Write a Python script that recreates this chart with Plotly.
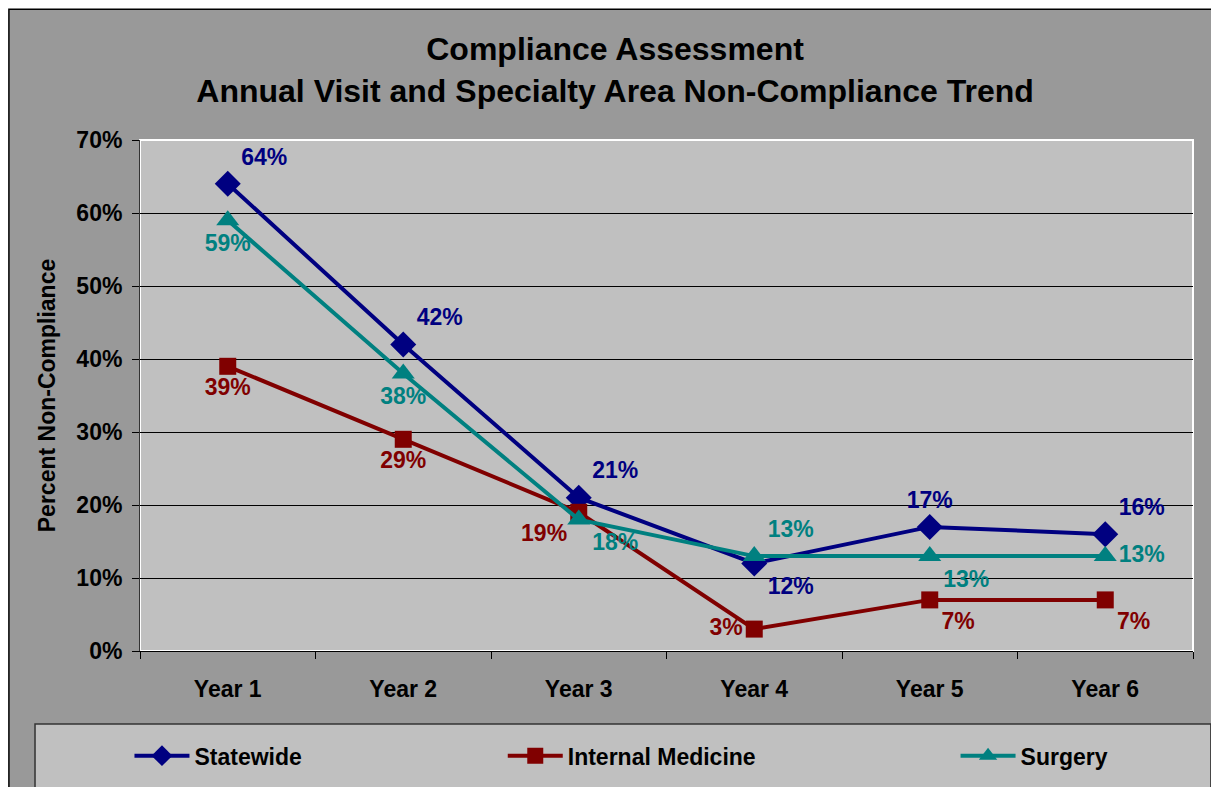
import plotly.graph_objects as go

years = ["Year 1", "Year 2", "Year 3", "Year 4", "Year 5", "Year 6"]
statewide = [0.64, 0.42, 0.21, 0.12, 0.17, 0.16]
internal_medicine = [0.39, 0.29, 0.19, 0.03, 0.07, 0.07]
surgery = [0.59, 0.38, 0.18, 0.13, 0.13, 0.13]

statewide_pos = ["top right", "top right", "top right", "bottom right", "top center", "top right"]
im_pos = ["bottom center", "bottom center", "bottom left", "middle left", "bottom right", "bottom right"]
surgery_pos = ["bottom center", "bottom center", "bottom right", "top right", "bottom right", "middle right"]

NAVY = "#000080"
MAROON = "#800000"
TEAL = "#008080"
FONT = "Liberation Sans"


def pct_labels(values):
    return ["<b>%d%%</b>" % round(v * 100) for v in values]


fig = go.Figure()
series = [
    ("Statewide", statewide, NAVY, "diamond", 20, statewide_pos, "legend"),
    ("Internal Medicine", internal_medicine, MAROON, "square", 17, im_pos, "legend2"),
    ("Surgery", surgery, TEAL, "triangle-up", 20, surgery_pos, "legend3"),
]
for name, values, color, symbol, size, positions, leg in series:
    fig.add_trace(go.Scatter(
        x=years, y=values, name="<b>%s</b>" % name,
        mode="lines+markers+text",
        line=dict(color=color, width=4),
        marker=dict(symbol=symbol, size=size, color=color),
        text=pct_labels(values), textposition=positions,
        textfont=dict(family=FONT, size=23, color=color),
        cliponaxis=False, legend=leg,
    ))

shapes = [
    # outer chart frame
    dict(type="rect", xref="paper", yref="paper", layer="below",
         x0=-0.1245, x1=1.05, y0=-0.4, y1=1.256,
         fillcolor="#999999", line=dict(color="black", width=1.5)),
    # plot area
    dict(type="rect", xref="paper", yref="paper", layer="below",
         x0=0, x1=1, y0=0, y1=1,
         fillcolor="#C0C0C0", line=dict(color="white", width=2)),
    # legend box
    dict(type="rect", xref="paper", yref="paper", layer="below",
         x0=-0.0997, x1=1.017, y0=-0.35, y1=-0.1429,
         fillcolor="#C0C0C0", line=dict(color="#333333", width=1.5)),
]

legend_style = dict(
    orientation="h", xanchor="left", y=-0.205, yanchor="middle", itemwidth=55,
    bgcolor="rgba(0,0,0,0)", font=dict(family=FONT, size=23, color="black"),
)

fig.update_layout(
    width=1219, height=787,
    margin=dict(l=132, r=34, t=132, b=144),
    paper_bgcolor="white", plot_bgcolor="rgba(0,0,0,0)",
    font=dict(family=FONT, size=23, color="black"),
    title=dict(
        text="<b>Compliance Assessment<br>Annual Visit and Specialty Area Non-Compliance Trend</b>",
        x=0.498, xanchor="center", y=0.934, yanchor="top",
        font=dict(family=FONT, size=32, color="black"),
    ),
    shapes=shapes,
    showlegend=True,
    legend=dict(x=-0.01, **legend_style),
    legend2=dict(x=0.3445, **legend_style),
    legend3=dict(x=0.7745, **legend_style),
)
fig.update_xaxes(
    type="category", range=[-0.5, 5.5], tickson="boundaries",
    ticks="outside", ticklen=7, tickcolor="black", automargin=False,
    showline=True, linecolor="black", linewidth=1, ticklabelstandoff=17,
    showgrid=False, tickfont=dict(family=FONT, size=23, color="black"),
    tickprefix="<b>", ticksuffix="</b>",
)
fig.update_yaxes(
    range=[0, 0.7], dtick=0.1, tickformat=".0%", automargin=False,
    ticks="outside", ticklen=7, tickcolor="black", ticklabelstandoff=5,
    showline=True, linecolor="#333333", linewidth=1,
    showgrid=True, gridcolor="black", gridwidth=1, zeroline=False,
    tickfont=dict(family=FONT, size=23, color="black"),
    tickprefix="<b>", ticksuffix="</b>",
    title=dict(text="<b>Percent Non-Compliance</b>", standoff=14,
               font=dict(family=FONT, size=23, color="black")),
)

fig.write_html("out.html")
